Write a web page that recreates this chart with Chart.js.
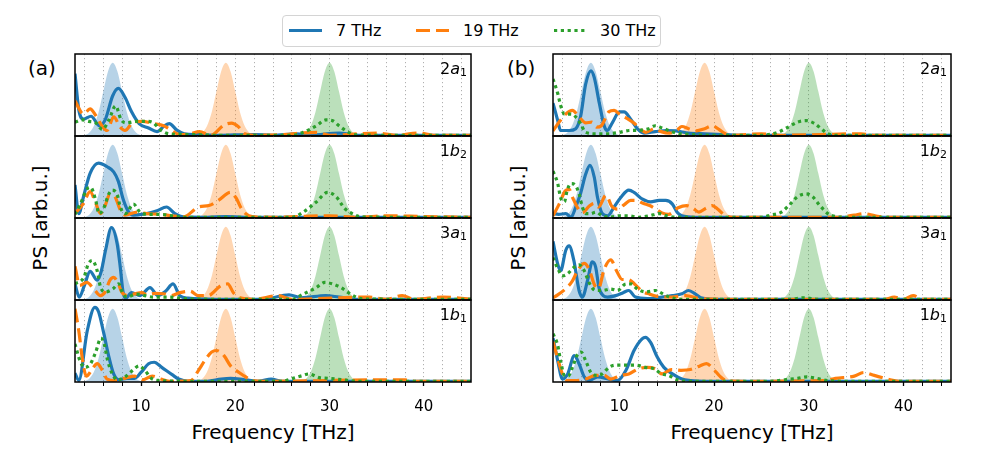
<!DOCTYPE html>
<html>
<head>
<meta charset="utf-8">
<script src="https://cdn.jsdelivr.net/npm/chart.js@4.4.1/dist/chart.umd.min.js"></script>
<style>
  body { margin: 0; background: #fff; font-family: "DejaVu Sans", sans-serif; color: #000; }
  #wrap { position: relative; width: 1001px; height: 450px; overflow: hidden; }
  canvas { position: absolute; }
  .txt { position: absolute; white-space: nowrap; line-height: 20px; }
  .big { font-size: 20px; }
  .rot { transform: translate(-50%, -50%) rotate(-90deg); }
  #legend { position: absolute; left: 282px; top: 15px; width: 377px; height: 30px;
            border: 1px solid #d4d4d4; border-radius: 4px; background: #fff; }
  #legend span { position: absolute; top: 5px; font-size: 16px; line-height: 20px; }
  #legend svg { position: absolute; left: 0; top: 0; }
</style>
</head>
<body>
<div id="wrap">
  <div id="legend">
    <svg width="377" height="30">
      <line x1="6" y1="14.5" x2="39" y2="14.5" stroke="#1f77b4" stroke-width="3.2"/>
      <line x1="133" y1="14.5" x2="166" y2="14.5" stroke="#ff7f0e" stroke-width="3.2" stroke-dasharray="14 6"/>
      <line x1="271" y1="14.5" x2="302" y2="14.5" stroke="#2ca02c" stroke-width="3.2" stroke-dasharray="3.2 3.6"/>
    </svg>
    <span id="lg0" style="left:53px"></span>
    <span id="lg1" style="left:180px"></span>
    <span id="lg2" style="left:317px"></span>
  </div>
  <div class="txt big" style="left:28px; top:58px">(a)</div>
  <div class="txt big" style="left:507px; top:58px">(b)</div>
  <div class="txt big rot" style="left:40px; top:218px">PS [arb.u.]</div>
  <div class="txt big rot" style="left:518px; top:218px">PS [arb.u.]</div>
  <div class="txt big" style="left:273px; top:422px; transform: translateX(-50%)">Frequency [THz]</div>
  <div class="txt big" style="left:752px; top:422px; transform: translateX(-50%)">Frequency [THz]</div>
</div>
<script>
// ---- data (frequency in THz, power spectrum in arb. units, pulse peak = 1) ----
const freqMin = 3;
const freqMax = 45;
const gridTicks = [4, 6, 8, 10, 12, 14, 16, 18, 20, 22, 24, 26, 28, 30, 32, 34, 36, 38, 40, 42, 44];
const labelTicks = [10, 20, 30, 40];
const seriesNames = ["7 THz", "19 THz", "30 THz"];
const pulseCenters = [7, 19, 30];
const pulseOffsets = [-3.5, -3, -2.5, -2, -1.5, -1, -0.5, 0, 0.5, 1, 1.5, 2, 2.5, 3, 3.5];
const pulseShape = [0.002, 0.011, 0.044, 0.135, 0.325, 0.607, 0.882, 1, 0.882, 0.607, 0.325, 0.135, 0.044, 0.011, 0.002];
const orbitals = [["2", "a", "1"], ["1", "b", "2"], ["3", "a", "1"], ["1", "b", "1"]];

// panel (a)
const a2a1_7 = [[3,0.85],[3.4,0.36],[3.9,0.23],[4.7,0.27],[5.6,0.14],[6.2,0.22],[7.0,0.55],[7.6,0.65],[8.3,0.53],[9.0,0.33],[9.8,0.17],[10.8,0.11],[11.7,0.06],[12.4,0.13],[13.0,0.17],[13.8,0.08],[14.6,0.03],[16,0.02],[18,0.01],[20,0.015],[22,0.02],[24,0.01],[26.5,0.03],[28,0.01],[31,0.04],[33,0.01],[37,0.01],[45,0.01]];
const a2a1_19 = [[3,0.48],[3.9,0.3],[4.6,0.37],[5.2,0.28],[5.85,0.14],[6.4,0.075],[7.1,0.26],[7.8,0.12],[8.3,0.075],[9.2,0.19],[10.1,0.2],[11.3,0.17],[12.4,0.14],[13.1,0.09],[14.1,0.02],[15.2,0.03],[16.2,0.06],[17.4,0.01],[18.8,0.15],[19.6,0.175],[20.3,0.13],[21.0,0.03],[22,0.01],[25,0.02],[28.6,0.05],[30,0.01],[35,0.04],[37,0.01],[39.5,0.04],[41,0.01],[45,0.01]];
const a2a1_30 = [[3,0.19],[3.8,0.22],[4.5,0.2],[5.2,0.18],[5.9,0.09],[6.6,0.22],[7.3,0.41],[7.9,0.22],[8.5,0.18],[9.5,0.2],[10.5,0.2],[11.3,0.18],[12.1,0.08],[13,0.03],[15,0.02],[18,0.01],[22,0.01],[26,0.01],[27.2,0.05],[28.6,0.14],[29.6,0.22],[30.3,0.21],[31,0.14],[32,0.05],[32.8,0.015],[36,0.01],[45,0.01]];

const a1b2_7 = [[3,0.45],[3.4,0.06],[3.9,0.29],[4.6,0.61],[5.5,0.75],[6.4,0.7],[7.1,0.63],[7.6,0.5],[8.1,0.26],[8.7,0.08],[9.2,0.04],[10.6,0.06],[11.7,0.1],[12.7,0.15],[13.6,0.06],[14.5,0.015],[17,0.01],[19,0.02],[21,0.01],[28,0.01],[45,0.01]];
const a1b2_19 = [[3,0.06],[3.9,0.2],[4.6,0.36],[5.15,0.22],[5.7,0.06],[6.2,0.17],[6.7,0.33],[7.25,0.29],[7.8,0.11],[8.3,0.04],[9.6,0.08],[10.6,0.06],[12,0.05],[13.3,0.03],[14.5,0.015],[16.1,0.15],[17.2,0.17],[18.2,0.24],[19.5,0.35],[20.1,0.27],[20.6,0.14],[21.1,0.06],[21.8,0.02],[24,0.01],[30,0.03],[33,0.01],[36,0.03],[40,0.02],[45,0.01]];
const a1b2_30 = [[3,0.05],[3.6,0.2],[4.3,0.4],[4.65,0.42],[5.2,0.24],[5.55,0.06],[6.0,0.12],[6.6,0.33],[6.95,0.38],[7.5,0.31],[7.8,0.15],[8.35,0.06],[9.2,0.19],[9.9,0.08],[10.8,0.05],[12,0.05],[13.3,0.03],[14.5,0.01],[20,0.01],[26,0.01],[27.2,0.08],[28.6,0.22],[29.8,0.35],[30.7,0.29],[31.6,0.13],[32.4,0.06],[33.3,0.015],[38,0.01],[45,0.01]];

const a3a1_7 = [[3,0.22],[3.45,0.04],[4.0,0.2],[4.6,0.39],[5.35,0.27],[5.8,0.4],[6.24,0.68],[6.87,0.99],[7.47,0.77],[7.8,0.45],[8.07,0.13],[8.35,0.02],[9.0,0.1],[9.9,0.06],[10.95,0.17],[11.8,0.06],[12.6,0.12],[13.4,0.22],[14.1,0.06],[15,0.025],[18,0.01],[23,0.01],[25.7,0.07],[27,0.03],[29.6,0.06],[31,0.04],[33,0.01],[45,0.01]];
const a3a1_19 = [[3,0.46],[3.5,0.2],[4.25,0.24],[5.0,0.15],[5.7,0.06],[6.2,0.11],[6.7,0.27],[7.1,0.31],[7.6,0.22],[7.95,0.11],[8.5,0.06],[9.2,0.08],[10.1,0.1],[10.6,0.07],[11.5,0.09],[12.4,0.085],[13.2,0.06],[14.1,0.1],[15.2,0.12],[16.1,0.06],[17.1,0.06],[18.5,0.2],[19.2,0.22],[19.8,0.1],[20.5,0.03],[22,0.01],[24.5,0.06],[26,0.01],[34.2,0.04],[36,0.01],[37.7,0.06],[39,0.01],[42,0.04],[45,0.01]];
const a3a1_30 = [[3,0.22],[3.95,0.31],[4.4,0.49],[4.83,0.54],[5.35,0.4],[5.7,0.18],[6.24,0.11],[7.0,0.15],[7.65,0.22],[8.0,0.11],[8.5,0.04],[9.5,0.08],[11.3,0.04],[13,0.04],[14.5,0.02],[18,0.01],[26,0.01],[27.2,0.08],[28.6,0.17],[29.5,0.24],[30.3,0.22],[31.2,0.17],[32,0.1],[32.8,0.04],[33.5,0.015],[38,0.01],[45,0.01]];

const a1b1_7 = [[3,0.12],[3.4,0.02],[4.3,0.7],[5.1,1.02],[5.5,0.96],[6.06,0.66],[6.6,0.34],[7.1,0.11],[7.65,0.03],[8.5,0.05],[9.3,0.05],[10.0,0.13],[10.8,0.25],[11.4,0.27],[12.2,0.2],[13.3,0.1],[14,0.04],[15,0.01],[17,0.01],[18.5,0.04],[19.5,0.05],[21,0.03],[22.5,0.01],[23.8,0.04],[25,0.01],[45,0.01]];
const a1b1_19 = [[3,1.0],[3.4,0.7],[3.8,0.3],[4.2,0.08],[4.8,0.17],[5.35,0.25],[5.9,0.16],[6.4,0.04],[7.3,0.02],[8.5,0.06],[9.3,0.08],[10.2,0.03],[11.2,0.08],[12.1,0.04],[13,0.01],[15.3,0.02],[16.1,0.16],[16.8,0.3],[17.5,0.41],[18,0.43],[18.8,0.36],[19.5,0.22],[20.4,0.13],[21.1,0.07],[21.8,0.02],[23,0.01],[36.3,0.03],[38,0.03],[39,0.01],[45,0.01]];
const a1b1_30 = [[3,0.52],[3.5,0.3],[4.0,0.2],[4.6,0.24],[5.2,0.41],[5.75,0.6],[6.1,0.52],[6.45,0.3],[6.95,0.11],[7.5,0.03],[8.3,0.07],[9.2,0.17],[9.8,0.22],[10.4,0.16],[11.1,0.05],[12,0.02],[15,0.01],[25,0.01],[26.1,0.05],[27.2,0.09],[27.8,0.11],[28.9,0.06],[29.9,0.05],[31.4,0.03],[33,0.01],[45,0.01]];

// panel (b)
const b2a1_7 = [[3,0.45],[3.5,0.21],[3.8,0.075],[4.7,0.075],[5.4,0.1],[5.9,0.26],[6.45,0.71],[7.0,0.89],[7.35,0.8],[7.9,0.44],[8.4,0.14],[8.7,0.075],[9.3,0.19],[10.0,0.33],[10.5,0.33],[11.2,0.23],[11.9,0.1],[12.6,0.04],[13.8,0.06],[15,0.075],[16,0.07],[17.3,0.04],[19,0.03],[21,0.02],[23,0.01],[45,0.01]];
const b2a1_19 = [[3,0.07],[3.65,0.19],[4.35,0.3],[5.05,0.35],[5.75,0.26],[6.45,0.18],[7.1,0.19],[7.6,0.12],[8.1,0.14],[8.9,0.33],[9.45,0.35],[10.1,0.29],[10.8,0.24],[11.6,0.17],[12.2,0.09],[12.8,0.05],[13.7,0.1],[14.4,0.06],[15.3,0.04],[16.1,0.08],[16.6,0.13],[17.3,0.1],[18.1,0.07],[19.0,0.1],[19.8,0.14],[20.5,0.09],[21.2,0.03],[22,0.01],[25,0.03],[27,0.01],[35.5,0.03],[37,0.01],[45,0.01]];
const b2a1_30 = [[3,0.78],[3.5,0.58],[3.8,0.42],[4.2,0.3],[4.9,0.3],[5.4,0.26],[5.9,0.17],[6.45,0.05],[7.5,0.03],[8.7,0.03],[10,0.05],[11,0.075],[12.2,0.08],[13.1,0.1],[13.8,0.14],[14.5,0.11],[15.2,0.075],[16,0.04],[17.5,0.02],[20,0.01],[25,0.01],[26.7,0.05],[27.8,0.12],[28.8,0.19],[29.7,0.21],[30.6,0.17],[31.3,0.1],[32,0.03],[33,0.01],[45,0.01]];

const b1b2_7 = [[3,0.06],[3.6,0.05],[4.35,0.06],[4.9,0.01],[5.4,0.15],[5.9,0.33],[6.45,0.6],[6.9,0.72],[7.35,0.56],[7.7,0.28],[8.2,0.06],[8.75,0.03],[9.45,0.15],[10.15,0.28],[11.0,0.38],[11.55,0.35],[12.4,0.26],[13.3,0.22],[14.2,0.24],[14.9,0.24],[15.6,0.19],[16.1,0.08],[16.6,0.03],[18,0.01],[45,0.01]];
const b1b2_19 = [[3,0.03],[3.65,0.19],[4.3,0.37],[4.7,0.39],[5.1,0.27],[5.6,0.14],[6.1,0.07],[6.8,0.16],[7.35,0.2],[7.8,0.15],[8.6,0.31],[9.2,0.16],[9.8,0.12],[10.5,0.18],[11.2,0.24],[11.8,0.24],[12.5,0.2],[13.2,0.17],[13.9,0.12],[14.5,0.07],[15.2,0.05],[16.2,0.14],[17.1,0.17],[17.8,0.13],[18.4,0.08],[19.1,0.13],[19.8,0.17],[20.4,0.12],[21.1,0.04],[22,0.01],[33,0.01],[34.8,0.04],[35.8,0.06],[37,0.03],[38.5,0.01],[45,0.01]];
const b1b2_30 = [[3,0.64],[3.5,0.47],[3.8,0.28],[4.2,0.22],[4.5,0.38],[4.9,0.47],[5.4,0.44],[5.75,0.33],[6.1,0.15],[6.45,0.06],[7.0,0.06],[7.5,0.08],[8.2,0.03],[9,0.01],[10,0.03],[11,0.03],[12,0.01],[13.2,0.03],[14.2,0.06],[15,0.03],[16,0.01],[25,0.01],[26,0.04],[27.1,0.08],[28.1,0.2],[28.8,0.29],[29.7,0.33],[30.4,0.29],[31.1,0.18],[32,0.06],[32.8,0.02],[34,0.01],[45,0.01]];

const b3a1_7 = [[3,0.8],[3.5,0.49],[3.8,0.4],[4.35,0.68],[4.7,0.74],[5.2,0.54],[5.75,0.13],[6.1,0.04],[6.65,0.27],[7.15,0.52],[7.5,0.45],[7.85,0.17],[8.3,0.06],[8.75,0.04],[9.6,0.06],[10.4,0.1],[11.0,0.13],[11.7,0.04],[13,0.02],[14.5,0.04],[15.6,0.06],[16.6,0.085],[17.3,0.13],[18,0.085],[18.6,0.03],[20,0.01],[45,0.01]];
const b3a1_19 = [[3,0.03],[3.5,0.07],[4.3,0.15],[5.0,0.25],[5.6,0.4],[6.3,0.5],[6.8,0.42],[7.4,0.2],[7.8,0.16],[8.4,0.42],[9.1,0.55],[9.7,0.4],[10.3,0.28],[10.9,0.28],[11.6,0.22],[12.4,0.12],[13.2,0.08],[14,0.05],[15.5,0.04],[17,0.06],[18.5,0.02],[22,0.01],[38,0.01],[39,0.04],[40,0.01],[41,0.06],[42,0.01],[45,0.01]];
const b3a1_30 = [[3,0.58],[3.5,0.43],[4.0,0.33],[4.55,0.36],[5.25,0.45],[5.75,0.48],[6.3,0.4],[6.8,0.24],[7.5,0.13],[8.2,0.13],[9.1,0.15],[9.8,0.13],[10.7,0.22],[11.2,0.22],[11.9,0.15],[12.8,0.11],[13.8,0.13],[14.5,0.09],[15.25,0.04],[16.5,0.01],[28,0.01],[29.5,0.03],[31,0.01],[45,0.01]];

const b1b1_7 = [[3,0.6],[3.5,0.29],[4.0,0.04],[4.55,0.11],[5.25,0.36],[5.75,0.25],[6.3,0.07],[6.8,0.02],[7.7,0.07],[8.9,0.04],[9.8,0.02],[10.7,0.16],[11.55,0.43],[12.4,0.59],[12.75,0.61],[13.3,0.54],[14.0,0.34],[14.7,0.2],[15.6,0.11],[16.6,0.04],[17.5,0.02],[19,0.01],[45,0.01]];
const b1b1_19 = [[3,0.55],[3.5,0.32],[4.0,0.11],[4.55,0.02],[5.5,0.02],[6.45,0.04],[7.5,0.09],[8.4,0.09],[9.1,0.04],[10.1,0.09],[11,0.11],[12,0.18],[12.95,0.2],[13.8,0.18],[14.5,0.11],[15.5,0.17],[16.5,0.16],[17.5,0.17],[18.5,0.22],[19.2,0.25],[19.9,0.18],[20.6,0.08],[21.3,0.02],[23,0.01],[31.7,0.02],[32.8,0.05],[34.8,0.08],[35.8,0.13],[36.9,0.09],[38.3,0.04],[39.5,0.01],[45,0.01]];
const b1b1_30 = [[3,0.66],[3.5,0.5],[3.8,0.29],[4.2,0.09],[4.6,0.08],[5.05,0.2],[5.6,0.38],[5.95,0.41],[6.45,0.29],[7.0,0.13],[7.6,0.09],[8.2,0.11],[8.9,0.2],[9.6,0.23],[10.7,0.23],[11.7,0.23],[12.75,0.2],[13.65,0.18],[14.5,0.11],[15.2,0.09],[15.9,0.04],[17,0.01],[26,0.01],[27.5,0.03],[28.8,0.05],[29.8,0.07],[30.8,0.05],[32,0.02],[34,0.01],[45,0.01]];

const panelA = [[a2a1_7, a2a1_19, a2a1_30], [a1b2_7, a1b2_19, a1b2_30], [a3a1_7, a3a1_19, a3a1_30], [a1b1_7, a1b1_19, a1b1_30]];
const panelB = [[b2a1_7, b2a1_19, b2a1_30], [b1b2_7, b1b2_19, b1b2_30], [b3a1_7, b3a1_19, b3a1_30], [b1b1_7, b1b1_19, b1b1_30]];

// ---- styles / layout ----
const colors = ["#1f77b4", "#ff7f0e", "#2ca02c"];
const fills = ["rgba(31,119,180,0.32)", "rgba(255,127,14,0.32)", "rgba(44,160,44,0.32)"];
const dashes = [[], [14, 6], [3.2, 3.6]];
const colLeft = [75, 553];
const colWidth = [396, 398];
const rowTop = 54;
const rowHeight = 82;
const pad = 3;
const axisBand = 36;

seriesNames.forEach((n, i) => { document.getElementById("lg" + i).textContent = n; });

const framePlugin = {
  id: "frame",
  afterDraw(chart, args, opts) {
    const { ctx, chartArea: a } = chart;
    ctx.save();
    ctx.lineWidth = 1.5;
    ctx.strokeStyle = "#000";
    ctx.strokeRect(a.left, a.top, a.right - a.left, a.bottom - a.top);

    const [num, letter, sub] = opts.orbital;
    ctx.fillStyle = "#000";
    ctx.textBaseline = "alphabetic";
    ctx.font = '11px "DejaVu Sans"';
    const ws = ctx.measureText(sub).width;
    ctx.font = 'italic 16px "DejaVu Sans"';
    const wl = ctx.measureText(letter).width;
    ctx.font = '16px "DejaVu Sans"';
    const wn = ctx.measureText(num).width;
    let x = a.right - 4 - ws - wl - wn;
    const y = a.top + 19.5;
    ctx.fillText(num, x, y);
    x += wn;
    ctx.font = 'italic 16px "DejaVu Sans"';
    ctx.fillText(letter, x, y);
    x += wl;
    ctx.font = '11px "DejaVu Sans"';
    ctx.fillText(sub, x, y + 2.5);
    ctx.restore();
  }
};

function makePanel(col, row, curves) {
  const bottomRow = row === 3;
  const cv = document.createElement("canvas");
  const w = colWidth[col] + 2 * pad;
  const h = rowHeight + pad + (bottomRow ? axisBand : pad);
  cv.width = w;
  cv.height = h;
  cv.style.left = (colLeft[col] - pad) + "px";
  cv.style.top = (rowTop + row * rowHeight - pad) + "px";
  document.getElementById("wrap").appendChild(cv);

  const lines = curves.map((pts, i) => ({
    data: pts.map(([x, y]) => ({ x, y })),
    borderColor: colors[i],
    borderWidth: 3.2,
    borderDash: dashes[i],
    borderCapStyle: "butt",
    pointRadius: 0,
    fill: false,
    cubicInterpolationMode: "monotone",
    clip: 0,
    order: 2 - i
  }));
  const pulses = pulseCenters.map((c, i) => ({
    data: pulseOffsets.map((o, k) => ({ x: c + o, y: pulseShape[k] })),
    borderWidth: 0,
    backgroundColor: fills[i],
    pointRadius: 0,
    fill: "origin",
    cubicInterpolationMode: "monotone",
    clip: 0,
    order: 5
  }));

  new Chart(cv, {
    type: "line",
    data: { datasets: lines.concat(pulses) },
    options: {
      responsive: false,
      animation: false,
      events: [],
      layout: { padding: { left: pad, right: pad, top: pad, bottom: bottomRow ? 0 : pad } },
      plugins: { legend: { display: false }, tooltip: { enabled: false }, frame: { orbital: orbitals[row] } },
      scales: {
        x: {
          type: "linear",
          min: freqMin,
          max: freqMax,
          afterBuildTicks: (s) => { s.ticks = gridTicks.map((v) => ({ value: v })); },
          afterFit: (s) => { s.height = bottomRow ? axisBand : 0; },
          grid: {
            color: "#b0b0b0",
            lineWidth: 1,
            drawTicks: bottomRow,
            tickLength: 4,
            tickColor: "#000",
            tickWidth: (ctx) => (ctx.tick && labelTicks.includes(ctx.tick.value) ? 1.3 : 1),
            tickBorderDash: []
          },
          border: { display: false, dash: [1.2, 2.8] },
          ticks: {
            display: bottomRow,
            autoSkip: false,
            maxRotation: 0,
            padding: 12,
            color: "#000",
            font: { family: "DejaVu Sans", size: 15 },
            callback: (v) => (labelTicks.includes(v) ? String(v) : "")
          }
        },
        y: { display: false, min: 0, max: 1.12 }
      }
    },
    plugins: [framePlugin]
  });
}

panelA.forEach((curves, r) => makePanel(0, r, curves));
panelB.forEach((curves, r) => makePanel(1, r, curves));
</script>
</body>
</html>
